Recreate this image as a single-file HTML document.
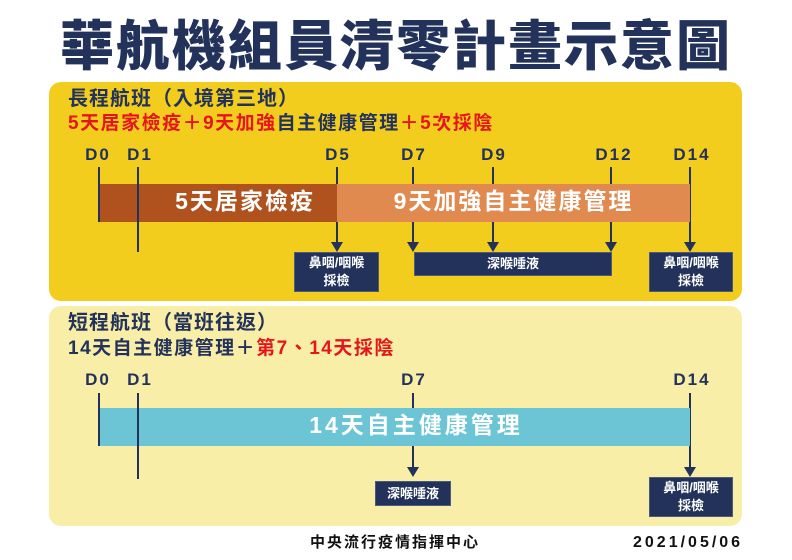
<!DOCTYPE html><html><head><meta charset="utf-8"><style>
body{margin:0;width:792px;height:560px;background:#fff;position:relative;overflow:hidden;font-family:"Liberation Sans","Noto Sans CJK TC",sans-serif;color:#22325a}
div{position:absolute;box-sizing:border-box}
.t{white-space:nowrap;line-height:1}
.v{background:#22325a;width:2px}
.ar{width:0;height:0;border-left:6px solid transparent;border-right:6px solid transparent;border-top:10px solid #22325a}
.box{background:#22325a;color:#fff;border:1px solid #4a5a80;text-align:center;font-size:13px;font-weight:bold;line-height:18px}
.lb{font-size:17px;font-weight:bold;transform:translateX(-50%);letter-spacing:2px}
</style></head><body>
<div class="t" style="left:0;width:792px;text-align:center;top:20px;font-size:54px;font-weight:900;letter-spacing:2px">華航機組員清零計畫示意圖</div>

<div style="left:49px;top:82px;width:693px;height:219px;background:#f3cd1e;border-radius:12px"></div>
<div class="t" style="left:68px;top:89px;font-size:20px;font-weight:bold;letter-spacing:1px">長程航班（入境第三地）</div>
<div class="t" style="left:68px;top:114px;font-size:19px;font-weight:bold;color:#e5151b;letter-spacing:1.5px">5天居家檢疫＋9天加強<span style="color:#22325a">自主健康管理</span>＋5次採陰</div>
<div class="t lb" style="left:98px;top:146px">D0</div>
<div class="t lb" style="left:140px;top:146px">D1</div>
<div class="t lb" style="left:338px;top:146px">D5</div>
<div class="t lb" style="left:414px;top:146px">D7</div>
<div class="t lb" style="left:494px;top:146px">D9</div>
<div class="t lb" style="left:614px;top:146px">D12</div>
<div class="t lb" style="left:692px;top:146px">D14</div>
<div class="v" style="left:336px;top:167px;height:75px"></div><div class="ar" style="left:331px;top:242px"></div>
<div class="v" style="left:412px;top:167px;height:75px"></div><div class="ar" style="left:407px;top:242px"></div>
<div class="v" style="left:492px;top:167px;height:75px"></div><div class="ar" style="left:487px;top:242px"></div>
<div class="v" style="left:610px;top:167px;height:75px"></div><div class="ar" style="left:605px;top:242px"></div>
<div class="v" style="left:689px;top:167px;height:75px"></div><div class="ar" style="left:684px;top:242px"></div>
<div style="left:98px;top:184px;width:239px;height:38px;background:#b0521e"></div>
<div style="left:337px;top:184px;width:353px;height:38px;background:#e08a50"></div>
<div class="t" style="left:140px;width:210px;top:190px;text-align:center;color:#fff;font-size:23px;font-weight:bold;letter-spacing:2px">5天居家檢疫</div>
<div class="t" style="left:337px;width:353px;top:190px;text-align:center;color:#fff;font-size:23px;font-weight:bold;letter-spacing:2px">9天加強自主健康管理</div>
<div class="v" style="left:98px;top:167px;height:55px"></div>
<div class="v" style="left:137px;top:167px;height:85px"></div>
<div class="box" style="left:294px;top:252px;width:85px;height:40px;padding-top:1px">鼻咽/咽喉<br>採檢</div>
<div class="box" style="left:414px;top:252px;width:198px;height:24px;line-height:22px">深喉唾液</div>
<div class="box" style="left:649px;top:252px;width:84px;height:40px;padding-top:1px">鼻咽/咽喉<br>採檢</div>

<div style="left:49px;top:306px;width:693px;height:220px;background:#f8eea7;border-radius:12px"></div>
<div class="t" style="left:68px;top:313px;font-size:20px;font-weight:bold;letter-spacing:1px">短程航班（當班往返）</div>
<div class="t" style="left:68px;top:339px;font-size:19px;font-weight:bold;letter-spacing:1.5px">14天自主健康管理＋<span style="color:#e5151b">第7、14天採陰</span></div>
<div class="t lb" style="left:98px;top:371px">D0</div>
<div class="t lb" style="left:140px;top:371px">D1</div>
<div class="t lb" style="left:414px;top:371px">D7</div>
<div class="t lb" style="left:692px;top:371px">D14</div>
<div class="v" style="left:412px;top:393px;height:74px"></div><div class="ar" style="left:407px;top:467px"></div>
<div class="v" style="left:689px;top:393px;height:74px"></div><div class="ar" style="left:684px;top:467px"></div>
<div style="left:98px;top:408px;width:592px;height:38px;background:#6cc5d5"></div>
<div class="t" style="left:120px;width:592px;top:414px;text-align:center;color:#fff;font-size:23px;font-weight:bold;letter-spacing:3px">14天自主健康管理</div>
<div class="v" style="left:98px;top:393px;height:53px"></div>
<div class="v" style="left:137px;top:393px;height:86px"></div>
<div class="box" style="left:375px;top:481px;width:76px;height:25px;line-height:23px">深喉唾液</div>
<div class="box" style="left:649px;top:477px;width:84px;height:40px;padding-top:1px">鼻咽/咽喉<br>採檢</div>

<div class="t" style="left:310px;top:535px;font-size:15px;font-weight:bold;color:#111;letter-spacing:2px">中央流行疫情指揮中心</div>
<div class="t" style="left:633px;top:535px;font-size:16px;font-weight:bold;color:#111;letter-spacing:3px">2021/05/06</div>
</body></html>
